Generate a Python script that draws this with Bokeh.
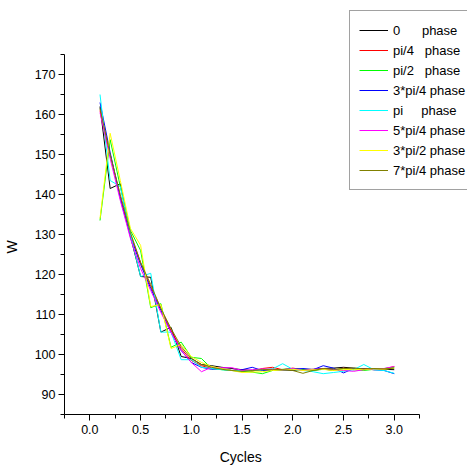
from bokeh.plotting import figure
from bokeh.models import Range1d, FixedTicker, Legend, LegendItem, PrintfTickFormatter
from bokeh.embed import file_html
from bokeh.resources import INLINE

cycles = [round(0.1 * i, 1) for i in range(1, 31)]

w_0 = [162.0, 141.5, 142.7, 129.5, 119.5, 119.3, 105.6, 106.8, 99.5, 99.0,
       97.5, 97.2, 96.8, 96.5, 96.2, 96.0, 96.2, 96.0, 96.2, 96.0,
       96.3, 96.3, 96.5, 96.6, 96.8, 96.6, 96.4, 96.2, 96.3, 96.2]
w_pi4 = [161.0, 150.0, 139.5, 130.0, 123.0, 117.0, 111.5, 106.0, 101.5, 98.5,
         97.2, 96.5, 96.3, 96.0, 96.2, 95.8, 96.5, 96.8, 96.2, 96.6,
         96.2, 96.0, 96.4, 96.0, 96.6, 96.2, 96.5, 96.3, 96.4, 97.0]
w_pi2 = [133.5, 153.7, 142.0, 131.0, 126.0, 111.7, 112.7, 101.8, 103.1, 99.3,
         99.0, 96.5, 96.2, 96.0, 95.8, 95.6, 95.2, 96.0, 96.3, 96.5,
         96.2, 96.0, 96.3, 96.1, 96.4, 96.2, 96.0, 96.3, 96.5, 96.8]
w_3pi4 = [163.0, 150.5, 139.0, 129.5, 122.5, 116.5, 111.0, 105.5, 101.0, 98.0,
          96.8, 96.3, 96.5, 96.0, 96.2, 96.8, 96.0, 96.2, 96.0, 96.3,
          96.5, 96.2, 97.2, 96.6, 95.4, 96.5, 96.4, 96.2, 96.0, 95.2]
w_pi = [165.0, 143.5, 142.0, 130.0, 119.5, 120.3, 105.6, 105.6, 98.7, 98.7,
        96.8, 96.5, 96.2, 96.0, 96.0, 96.0, 96.2, 96.4, 97.7, 96.3,
        96.0, 95.7, 95.2, 95.5, 95.8, 96.2, 97.5, 96.2, 96.0, 95.3]
w_5pi4 = [160.5, 149.0, 138.5, 129.0, 121.5, 116.0, 110.5, 105.5, 101.0, 98.0,
          95.7, 96.8, 96.7, 96.7, 96.0, 96.2, 96.4, 96.3, 96.2, 96.5,
          96.0, 96.3, 96.4, 96.2, 96.0, 95.8, 96.2, 96.4, 96.5, 97.0]
w_3pi2 = [134.0, 155.3, 143.5, 131.5, 127.3, 112.0, 112.5, 101.5, 102.5, 99.5,
          98.0, 97.0, 96.5, 96.0, 95.5, 95.6, 95.7, 96.0, 96.1, 96.3,
          96.0, 96.2, 96.3, 96.0, 96.2, 96.3, 96.2, 96.4, 96.3, 96.6]
w_7pi4 = [161.5, 150.0, 140.0, 130.5, 123.0, 117.5, 111.5, 106.5, 102.0, 99.0,
          97.5, 96.8, 96.3, 96.0, 95.8, 96.0, 96.2, 96.3, 96.2, 96.0,
          95.3, 96.0, 96.5, 96.3, 96.5, 96.6, 96.4, 96.5, 96.4, 96.6]

NB = "\u00a0"
series_labels = ["0" + NB * 6 + "phase", "pi/4" + NB * 3 + "phase", "pi/2" + NB * 3 + "phase",
                 "3*pi/4 phase", "pi" + NB * 5 + "phase", "5*pi/4 phase",
                 "3*pi/2 phase", "7*pi/4 phase"]
series_values = [w_0, w_pi4, w_pi2, w_3pi4, w_pi, w_5pi4, w_3pi2, w_7pi4]
series_colors = ["#000000", "#FF0000", "#00FF00", "#0000FF",
                 "#00FFFF", "#FF00FF", "#FFFF00", "#808000"]

x_major = [0.0, 0.5, 1.0, 1.5, 2.0, 2.5, 3.0]
x_minor = [-0.25, 0.25, 0.75, 1.25, 1.75, 2.25, 2.75, 3.25]
y_major = [90, 100, 110, 120, 130, 140, 150, 160, 170]
y_minor = [85, 95, 105, 115, 125, 135, 145, 155, 165, 175]
x_axis_bounds = (-0.25, 3.25)
y_axis_bounds = (85, 175)
x_title = "Cycles"
y_title = "W"

# layout: the frame is widened to the canvas edges so the legend can sit
# above/right of the axes; axis lines are limited with bounds
W, H = 468, 471
B_LEFT, B_RIGHT, B_TOP, B_BOTTOM = 63, 1, 1, 57
axis_px_w = 356.0
axis_px_h = 360.0
sx = axis_px_w / (x_axis_bounds[1] - x_axis_bounds[0])
sy = axis_px_h / (y_axis_bounds[1] - y_axis_bounds[0])
frame_w = W - B_LEFT - B_RIGHT
frame_h = H - B_TOP - B_BOTTOM
x_end = x_axis_bounds[0] + frame_w / sx
y_end = y_axis_bounds[0] + frame_h / sy

p = figure(width=W, height=H, output_backend="svg", toolbar_location=None,
           x_range=Range1d(x_axis_bounds[0], x_end),
           y_range=Range1d(y_axis_bounds[0], y_end),
           min_border_left=B_LEFT, min_border_right=B_RIGHT,
           min_border_top=B_TOP, min_border_bottom=B_BOTTOM)
p.outline_line_color = None
p.xgrid.visible = False
p.ygrid.visible = False
p.background_fill_color = "white"
p.border_fill_color = "white"

items = []
for lab, vals, col in zip(series_labels, series_values, series_colors):
    r = p.line(cycles, vals, line_color=col, line_width=1)
    items.append(LegendItem(label=lab, renderers=[r]))

for ax in (p.xaxis[0], p.yaxis[0]):
    ax.axis_line_color = "black"
    ax.axis_line_width = 1
    ax.major_tick_line_color = "black"
    ax.minor_tick_line_color = "black"
    ax.major_tick_out = 6
    ax.major_tick_in = 0
    ax.minor_tick_out = 4
    ax.minor_tick_in = 0
    ax.major_label_text_font = "Liberation Sans"
    ax.major_label_text_font_size = "12.5px"
    ax.major_label_text_color = "black"
    ax.axis_label_text_font = "Liberation Sans"
    ax.axis_label_text_font_size = "14px"
    ax.axis_label_text_font_style = "normal"
    ax.axis_label_text_color = "black"

p.xaxis[0].bounds = x_axis_bounds
p.yaxis[0].bounds = y_axis_bounds
p.xaxis[0].ticker = FixedTicker(ticks=x_major, minor_ticks=x_minor)
p.yaxis[0].ticker = FixedTicker(ticks=y_major, minor_ticks=y_minor)
p.xaxis[0].formatter = PrintfTickFormatter(format="%.1f")
# trailing no-break spaces shift the centred titles to sit at the middle of
# the drawn axis lines instead of the (wider) frame
p.xaxis[0].axis_label = x_title + NB * 13
p.yaxis[0].axis_label = y_title + NB * 20
p.xaxis[0].major_label_standoff = 4
p.yaxis[0].major_label_standoff = 3
p.xaxis[0].axis_label_standoff = 12
p.yaxis[0].axis_label_standoff = 12

legend = Legend(items=items, location=(285, 224))
legend.border_line_color = "#444444"
legend.border_line_width = 1
legend.background_fill_color = "white"
legend.background_fill_alpha = 1
legend.label_text_font = "Liberation Sans"
legend.label_text_font_size = "13px"
legend.label_text_color = "black"
legend.glyph_width = 29
legend.glyph_height = 20
legend.label_height = 20
legend.label_standoff = 5
legend.spacing = 0
legend.padding = 9
legend.margin = 0
p.add_layout(legend, "center")

open("out.html", "w").write(file_html(p, INLINE))
